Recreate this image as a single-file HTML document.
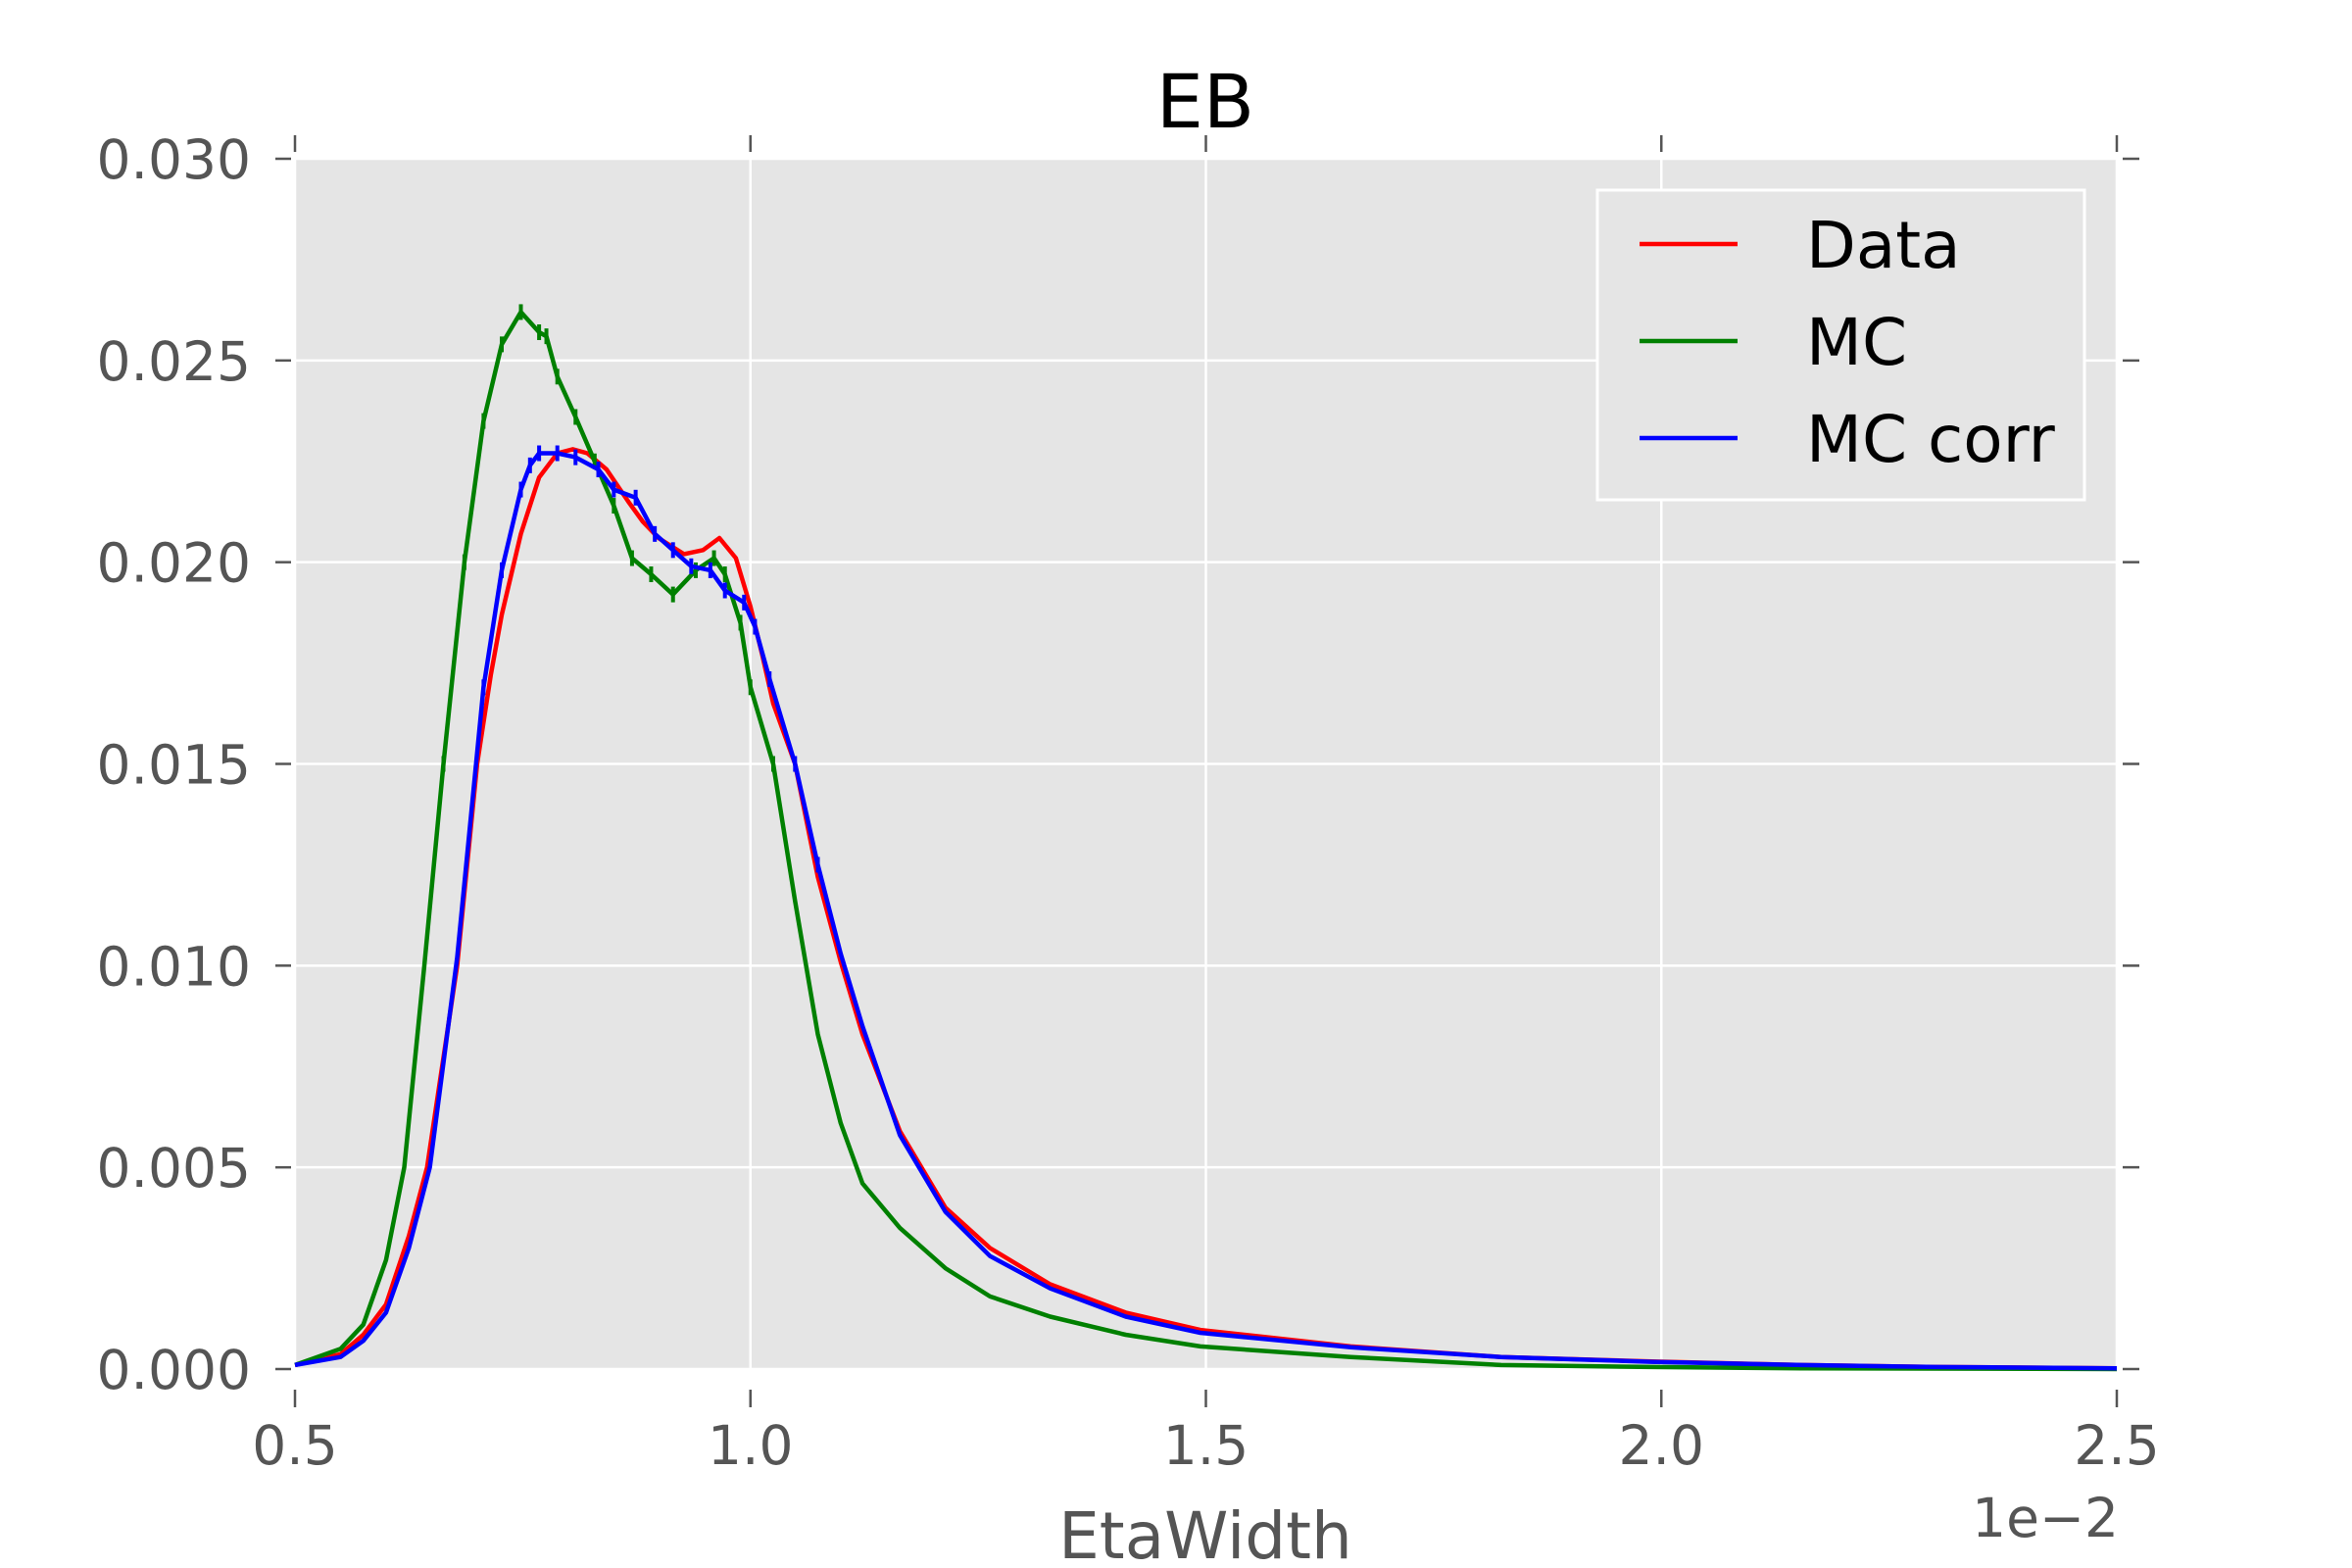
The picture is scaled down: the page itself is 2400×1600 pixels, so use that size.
<!DOCTYPE html>
<html><head><meta charset="utf-8"><style>
html,body{margin:0;padding:0;background:#fff;}
svg{display:block;font-family:"DejaVu Sans","Liberation Sans",sans-serif;}
</style></head><body>
<svg id="chart" width="2400" height="1600" viewBox="0 0 2400 1600">
<g id="bg"></g><g id="grid"></g><g id="series"></g><g id="axes"></g><g id="legend"></g>
</svg>
<script>
const xTicks=[0.5,1.0,1.5,2.0,2.5];
const xTickLabels=["0.5","1.0","1.5","2.0","2.5"];
const yTicks=[0,0.005,0.010,0.015,0.020,0.025,0.030];
const yTickLabels=["0.000","0.005","0.010","0.015","0.020","0.025","0.030"];
const seriesNames=["Data","MC","MC corr"];
const dataX=[0.5,0.55,0.575,0.6,0.625,0.645,0.678,0.7,0.715,0.727,0.748,0.768,0.788,0.805,0.821,0.842,0.866,0.882,0.899,0.927,0.948,0.966,0.984,1.0,1.013,1.025,1.049,1.074,1.099,1.123,1.164,1.214,1.263,1.329,1.412,1.494,1.659,1.824,1.989,2.154,2.3,2.5];
const dataY=[0.0001,0.00037,0.00085,0.0016,0.0033,0.0050,0.0100,0.0150,0.0172,0.0187,0.0207,0.0221,0.0227,0.0228,0.0227,0.0223,0.0215,0.0210,0.0206,0.0202,0.0203,0.0206,0.0201,0.0189,0.0177,0.0165,0.0150,0.0122,0.0101,0.0083,0.0059,0.0040,0.0030,0.0021,0.0014,0.00097,0.00056,0.0003,0.00019,0.0001,0.00005,0.00002];
const mcX=[0.5,0.55,0.575,0.6,0.62,0.642,0.663,0.686,0.707,0.727,0.748,0.768,0.776,0.788,0.808,0.829,0.85,0.87,0.891,0.915,0.94,0.96,0.972,0.989,1.0,1.025,1.049,1.074,1.099,1.123,1.164,1.214,1.263,1.329,1.412,1.494,1.659,1.824,1.989,2.154,2.5];
const mcY=[0.0001,0.0005,0.0011,0.0027,0.0050,0.0100,0.0150,0.0200,0.0235,0.0254,0.0262,0.0257,0.0256,0.0246,0.0236,0.0225,0.0214,0.0201,0.0197,0.0192,0.0198,0.0201,0.0197,0.0185,0.0169,0.0150,0.0116,0.0083,0.0061,0.0046,0.0035,0.0025,0.0018,0.0013,0.00085,0.00056,0.0003,0.0001,0.00005,0.00002,0];
const corrX=[0.5,0.55,0.575,0.6,0.625,0.648,0.678,0.707,0.727,0.748,0.758,0.768,0.788,0.808,0.833,0.85,0.874,0.895,0.915,0.935,0.956,0.972,0.993,1.005,1.021,1.049,1.074,1.099,1.123,1.164,1.214,1.263,1.329,1.412,1.494,1.659,1.824,1.989,2.154,2.3,2.5];
const corrY=[0.0001,0.0003,0.0007,0.0014,0.0030,0.0050,0.0102,0.0169,0.0198,0.0218,0.0224,0.0227,0.0227,0.0226,0.0223,0.0218,0.0216,0.0207,0.0203,0.0199,0.0198,0.0193,0.0190,0.0184,0.0171,0.0150,0.0125,0.0103,0.0085,0.0058,0.0039,0.0028,0.0020,0.0013,0.0009,0.00054,0.0003,0.00018,0.0001,0.00005,0.00002];

const L=301,R=2160,T=162,B=1397;
const xs=v=>L+(v-0.5)/2.0*(R-L);
const ys=v=>B-v/0.030*(B-T);
const NS='http://www.w3.org/2000/svg';
function mk(tag,attrs,parent){const e=document.createElementNS(NS,tag);for(const k in attrs)e.setAttribute(k,attrs[k]);parent.appendChild(e);return e;}
const bg=document.getElementById('bg'),grid=document.getElementById('grid'),ser=document.getElementById('series'),ax=document.getElementById('axes'),lg=document.getElementById('legend');
const plot=mk('rect',{x:L,y:T,width:R-L,height:B-T,fill:'#e5e5e5'},bg);


xTicks.forEach((v,i)=>{
  const g=mk('line',{x1:xs(v),x2:xs(v),y1:T,y2:B,stroke:'#fff','stroke-width':2.5},grid);
  
  
  mk('line',{x1:xs(v),x2:xs(v),y1:138,y2:155,stroke:'#555','stroke-width':2.5},ax);
  mk('line',{x1:xs(v),x2:xs(v),y1:1418,y2:1436,stroke:'#555','stroke-width':2.5},ax);
  const t=mk('text',{x:xs(v),y:1494,'font-size':55,fill:'#555','text-anchor':'middle'},ax);
  t.textContent=xTickLabels[i];
  
  
});
yTicks.forEach((v,i)=>{
  const g=mk('line',{x1:L,x2:R,y1:ys(v),y2:ys(v),stroke:'#fff','stroke-width':2.5},grid);
  
  
  mk('line',{x1:281,x2:297,y1:ys(v),y2:ys(v),stroke:'#555','stroke-width':2.5},ax);
  mk('line',{x1:2166,x2:2183,y1:ys(v),y2:ys(v),stroke:'#555','stroke-width':2.5},ax);
  const t=mk('text',{x:256,y:ys(v)+20,'font-size':55,fill:'#555','text-anchor':'end'},ax);
  t.textContent=yTickLabels[i];
  
  
});
function drawSeries(xa,ya,color,name,err){
  const d=xa.map((x,i)=>(i?'L':'M')+xs(x).toFixed(1)+','+ys(ya[i]).toFixed(1)).join(' ');
  const p=mk('path',{d:d,fill:'none',stroke:color,'stroke-width':4.5,'stroke-linejoin':'round'},ser);
  
  
  if(err){xa.forEach((x,i)=>{if(ya[i]>0.012){const e=mk('line',{x1:xs(x),x2:xs(x),y1:ys(ya[i])-8,y2:ys(ya[i])+8,stroke:color,'stroke-width':4},ser);
    
    }});}
}
drawSeries(dataX,dataY,'#ff0000','data-line',false);
drawSeries(mcX,mcY,'#008000','mc-line',true);
drawSeries(corrX,corrY,'#0000ff','mc-corr-line',true);
const title=mk('text',{x:1230,y:130,'font-size':76,fill:'#000','text-anchor':'middle'},ax);
title.textContent='EB';


const xl=mk('text',{x:1230,y:1590,'font-size':66,fill:'#555','text-anchor':'middle'},ax);
xl.textContent='EtaWidth';


const off=mk('text',{x:2162,y:1568,'font-size':55,fill:'#555','text-anchor':'end'},ax);
off.textContent='1e\u22122';


const box=mk('rect',{x:1630,y:194,width:497,height:316,fill:'#e5e5e5',stroke:'#fff','stroke-width':3},lg);


const lcol=['#ff0000','#008000','#0000ff'];
seriesNames.forEach((n,i)=>{
  const y=249+i*99;
  const l=mk('line',{x1:1673,x2:1773,y1:y,y2:y,stroke:lcol[i],'stroke-width':4.5},lg);
  
  
  const t=mk('text',{x:1843,y:y+24,'font-size':66,fill:'#000'},lg);
  t.textContent=n;
  
  
});
</script>
</body></html>
